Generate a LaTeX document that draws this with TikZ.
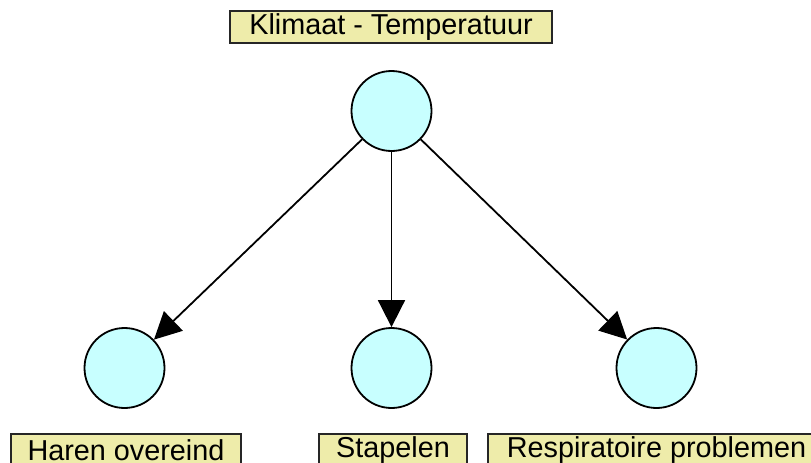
\documentclass[tikz,border=0pt]{standalone}
\usepackage{fontspec}
\setmainfont{Liberation Sans}
\usetikzlibrary{arrows.meta}
\definecolor{nodefill}{RGB}{200,255,255}
\definecolor{labelfill}{RGB}{238,236,170}
\tikzset{
  varnode/.style={circle, draw=black, line width=1.8pt, fill=nodefill,
    minimum size=80pt, inner sep=0pt},
  varlabel/.style={draw=black!85, line width=1.8pt, fill=labelfill,
    minimum height=32pt, inner sep=0pt,
    font=\fontsize{28.8}{30}\selectfont},
  influence/.style={line width=1.8pt,
    -{Triangle[length=27pt,width=27pt]}}
}
\begin{document}
\begin{tikzpicture}[x=1pt,y=-1pt]
  \useasboundingbox (0,0) rectangle (811,463);
  % variables
  \node[varnode] (klimaat) at (391.5,111) {};
  \node[varnode] (haren) at (124.5,368) {};
  \node[varnode] (stapelen) at (391.5,368) {};
  \node[varnode] (resp) at (656.5,368) {};
  % labels
  \node[varlabel, minimum width=322pt] (lklimaat) at (391,27) {Klimaat - Temperatuur};
  \node[varlabel, minimum width=230pt] (lharen) at (126,450) {Haren overeind};
  \node[varlabel, minimum width=148pt] (lstapelen) at (393,450) {Stapelen};
  \node[varlabel, minimum width=337pt] (lresp) at (656.5,450) {Respiratoire problemen};
  % influences
  \draw[influence] (klimaat) -- (haren);
  \draw[influence] (klimaat) -- (stapelen);
  \draw[influence] (klimaat) -- (resp);
\end{tikzpicture}
\end{document}
